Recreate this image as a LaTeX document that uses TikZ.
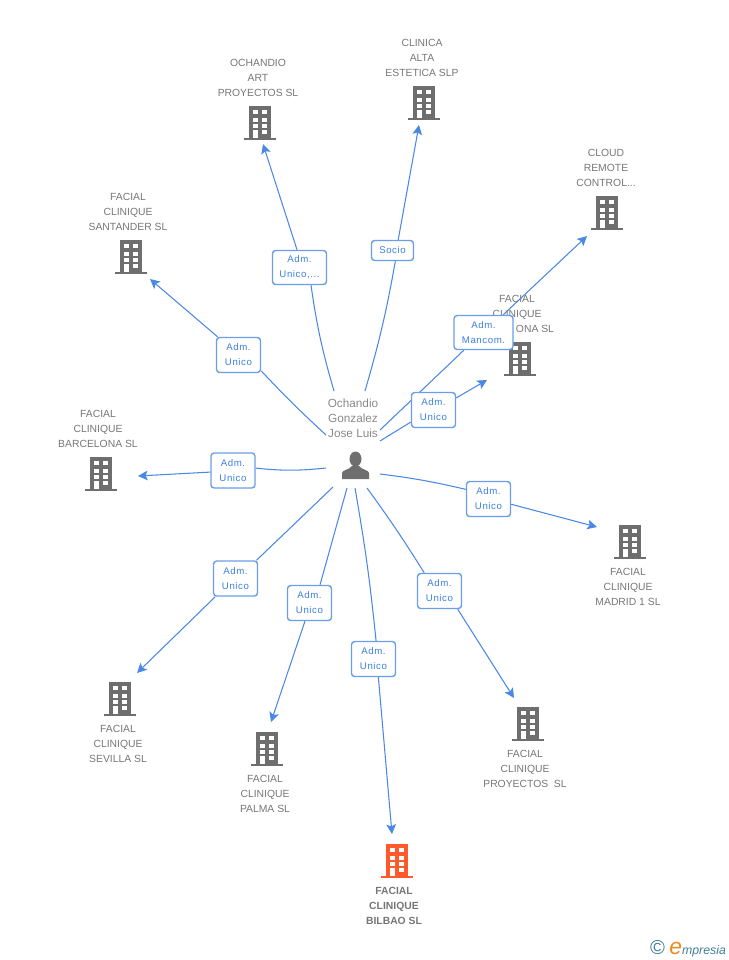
\documentclass[tikz,border=0pt]{standalone}
\usepackage{fontspec}
\setmainfont{Liberation Sans}
\newfontfamily\rolefont[LetterSpace=6]{Liberation Sans}
\usepackage{tikz}
\usetikzlibrary{arrows.meta,backgrounds}
\definecolor{linkblue}{HTML}{4A88E4}
\definecolor{boxblue}{HTML}{6A9EE8}
\definecolor{roletext}{HTML}{3D80E0}
\definecolor{textgray}{HTML}{767676}
\definecolor{icongray}{HTML}{6E6E6E}
\definecolor{maincolor}{HTML}{FF5A2B}
\definecolor{logoteal}{HTML}{3F8098}
\definecolor{logoorange}{HTML}{F08A1D}
\tikzset{
  building/.pic={
    \fill[pic actions] (-11,-17) rectangle (11,15);
    \fill[pic actions] (-16,14.5) rectangle (16,17);
    \foreach \wy in {-13,-5.5,1}{
      \fill[white] (-7,\wy) rectangle (-2,\wy+4);
      \fill[white] (2,\wy) rectangle (7,\wy+4);
    }
    \fill[white] (-7,7) rectangle (-2,15);
    \fill[white] (2,7) rectangle (7,11);
  }
}
\begin{document}
\begin{tikzpicture}[x=0.02cm,y=-0.02cm,>={Stealth[length=5.5pt,width=5.5pt,inset=1.2pt]},semithick,
    company/.style={align=center,text=textgray,inner sep=0pt,font=\fontsize{5.9}{8.5}\selectfont},
    rolebox/.style={draw=boxblue,fill=white,rounded corners=1.8pt,line width=0.8pt,text=roletext,align=center,
      inner sep=0pt,minimum width=0.88cm,minimum height=0.7cm,font=\rolefont\fontsize{5.5}{8.5}\selectfont},
    link/.style={linkblue,line width=0.6pt},
    arrowlink/.style={link,->}]
  \useasboundingbox (0,0) rectangle (728,960);
  % companies
  \pic[fill=icongray] (santander) at (131,257) {building};
  \pic[fill=icongray] (art) at (260,123) {building};
  \pic[fill=icongray] (alta) at (424,103) {building};
  \pic[fill=icongray] (cloud) at (607,213) {building};
  \pic[fill=icongray] (hidden) at (520,359) {building};
  \pic[fill=icongray] (barcelona) at (101,474) {building};
  \pic[fill=icongray] (madrid) at (630,542) {building};
  \pic[fill=icongray] (proyectos) at (528,724) {building};
  \pic[fill=icongray] (palma) at (267,749) {building};
  \pic[fill=icongray] (sevilla) at (120,699) {building};
  \pic[fill=maincolor] (bilbao) at (397,861) {building};
  \node[company](santanderText)at(128,212){FACIAL\\CLINIQUE\\SANTANDER SL};
  \node[company](artText)at(258,78){OCHANDIO\\ART\\PROYECTOS SL};
  \node[company](altaText)at(422,58){CLINICA\\ALTA\\ESTETICA SLP};
  \node[company](cloudText)at(606,168){CLOUD\\REMOTE\\CONTROL...};
  \node[company](hiddenText)at(517,314){FACIAL\\CLINIQUE\\\hspace*{0.72cm}ONA SL};
  \node[company](barcelonaText)at(98,429){FACIAL\\CLINIQUE\\BARCELONA SL};
  \node[company](madridText)at(628,587){FACIAL\\CLINIQUE\\MADRID 1 SL};
  \node[company](proyectosText)at(525,769){FACIAL\\CLINIQUE\\PROYECTOS\ \ SL};
  \node[company](palmaText)at(265,794){FACIAL\\CLINIQUE\\PALMA SL};
  \node[company](sevillaText)at(118,744){FACIAL\\CLINIQUE\\SEVILLA SL};
  \node[company,font=\bfseries\fontsize{5.9}{8.5}\selectfont](bilbaoText)at(394,906){FACIAL\\CLINIQUE\\BILBAO SL};
  % person
  \node[company,text=textgray!85,font=\fontsize{6.7}{8.5}\selectfont](person)at(353,418){Ochandio\\Gonzalez\\Jose Luis};
  \fill[icongray] (355.5,459) ellipse (6 and 7.5);
  \fill[icongray] (342,479) -- (342,473) .. controls (342,470) and (349,470) .. (352,466)
    -- (359,466) .. controls (362,470) and (369,470) .. (369,473) -- (369,479) -- cycle;
  % role boxes
  \node[rolebox](r1)at(238.5,355){Adm.\\Unico};
  \node[rolebox,minimum height=0.68cm,minimum width=1.08cm](r2)at(299.5,267.5){Adm.\\Unico,...};
  \node[rolebox,minimum height=0.4cm,minimum width=0.84cm](r3)at(392.5,250.5){Socio};
  \node[rolebox,minimum width=1.18cm,minimum height=0.68cm](r4)at(483.5,332.5){Adm.\\Mancom.};
  \node[rolebox](r5)at(433.5,410){Adm.\\Unico};
  \node[rolebox](r6)at(488.5,499){Adm.\\Unico};
  \node[rolebox](r7)at(439.5,591){Adm.\\Unico};
  \node[rolebox](r8)at(373.5,659){Adm.\\Unico};
  \node[rolebox](r9)at(309.5,603){Adm.\\Unico};
  \node[rolebox](r10)at(235.5,578.5){Adm.\\Unico};
  \node[rolebox](r11)at(233,470.5){Adm.\\Unico};
  % link ends
  \coordinate(a1)at(326,435); \coordinate(b1)at(150,279);
  \coordinate(a2)at(334,391); \coordinate(b2)at(263,144);
  \coordinate(a3)at(365,391); \coordinate(b3)at(419,125);
  \coordinate(a4)at(380,430); \coordinate(b4)at(587,236);
  \coordinate(a5)at(380,441); \coordinate(b5)at(487,380);
  \coordinate(a6)at(380,474); \coordinate(b6)at(597,527);
  \coordinate(a7)at(367,488); \coordinate(b7)at(514,698);
  \coordinate(a8)at(355,488); \coordinate(b8)at(392,834);
  \coordinate(a9)at(347,488); \coordinate(b9)at(271,722);
  \coordinate(a10)at(333,487); \coordinate(b10)at(137,673);
  \coordinate(a11)at(326,468); \coordinate(b11)at(138,476);
  \begin{scope}[on background layer]
  \path (a1) edge [link,bend left=2] (r1.-35)
    (a2) edge [link,bend left=4] (r2.-57)
    (a3) edge [link,bend right=3] (r3.-75)
    (a4) edge [link] (r4.222)
    (a5) edge [link] (r5.208)
    (a6) edge [link,bend left=3] (r6.157)
    (a7) edge [link,bend left=2] (r7.130)
    (a8) edge [link,bend left=2] (r8.82)
    (a9) edge [link] (r9.60)
    (a10) edge [link] (r10.41)
    (a11) edge [link,bend left=6] (r11.6);
  \path (r1.139) edge [arrowlink] (b1)
    (r2.98) edge [arrowlink] (b2)
    (r3.62) edge [arrowlink] (b3)
    (r4.42) edge [arrowlink] (b4)
    (r5.28) edge [arrowlink] (b5)
    (r6.-13) edge [arrowlink] (b6)
    (r7.-45) edge [arrowlink] (b7)
    (r8.-75) edge [arrowlink] (b8)
    (r9.-104) edge [arrowlink] (b9)
    (r10.-138) edge [arrowlink] (b10)
    (r11.184) edge [arrowlink] (b11);
  \end{scope}
  % logo
  \node[inner sep=0pt,text=logoteal,font=\itshape\fontsize{7}{8}\selectfont](logo)at(688,949)
    {{\upshape\fontsize{11.5}{11}\selectfont\textcopyright}\hspace{2.5pt}{\color{logoorange}\fontsize{13}{12}\selectfont e}mpresia};
\end{tikzpicture}
\end{document}
